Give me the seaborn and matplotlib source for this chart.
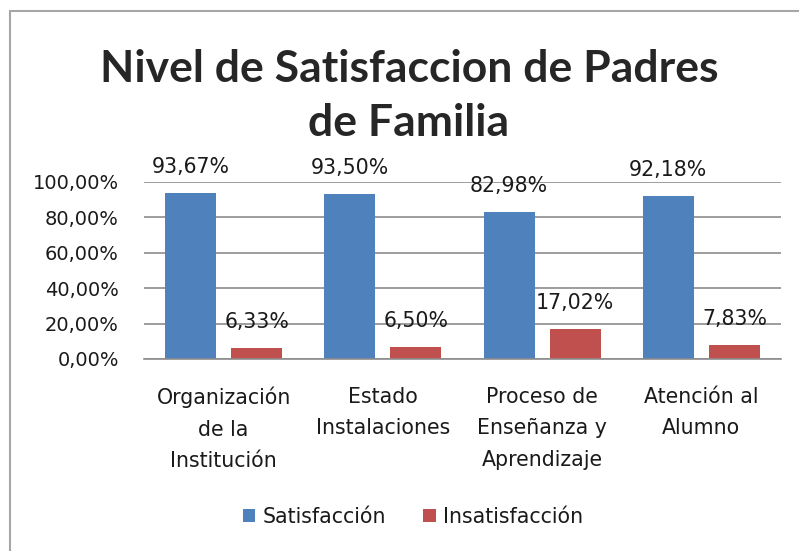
import matplotlib
matplotlib.use("Agg")
import matplotlib.pyplot as plt
import seaborn as sns
import pandas as pd
from matplotlib.lines import Line2D
from matplotlib.patches import Patch

categories = ["Organización\nde la\nInstitución", "Estado\nInstalaciones",
              "Proceso de\nEnseñanza y\nAprendizaje", "Atención al\nAlumno"]
series_names = ["Satisfacción", "Insatisfacción"]
satisfaccion = [93.67, 93.50, 82.98, 92.18]
insatisfaccion = [6.33, 6.50, 17.02, 7.83]
y_ticks = [0, 20, 40, 60, 80, 100]
title_lines = ["Nivel de Satisfaccion de Padres", "de Familia"]

colors = ["#4f81bd", "#c0504d"]

sns.set_theme(style="white")
plt.rcParams["font.family"] = ["DejaVu Sans"]


def pct(v):
    return f"{v:.2f}".replace(".", ",") + "%"


df = pd.DataFrame({
    "categoria": categories * 2,
    "serie": [series_names[0]] * 4 + [series_names[1]] * 4,
    "valor": satisfaccion + insatisfaccion,
})

W, H = 799, 551
fig = plt.figure(figsize=(W / 100, H / 100), dpi=100)
ax = fig.add_axes([144 / W, (H - 359) / H, (781 - 144) / W, (359 - 182) / H])

sns.barplot(data=df, x="categoria", y="valor", hue="serie", palette=colors,
            width=0.83, gap=0.23, ax=ax, legend=False, saturation=1, linewidth=0)

ax.set_ylim(0, 100)
ax.set_xlim(-0.5, 3.5)
ax.set_yticks(y_ticks)
ax.set_yticklabels([pct(v) for v in y_ticks], fontsize=14, color="#1a1a1a")
ax.tick_params(axis="x", labelsize=14.8, labelcolor="#1a1a1a", pad=20, length=0)
ax.tick_params(axis="y", pad=18, length=0)
ax.set_xlabel("")
ax.set_ylabel("")
for lbl in ax.get_xticklabels():
    lbl.set_linespacing(1.72)

ax.yaxis.grid(True, color="#8c8c8c", linewidth=1.2)
ax.set_axisbelow(True)
for side in ["left", "right", "top"]:
    ax.spines[side].set_visible(False)
ax.spines["bottom"].set_color("#8c8c8c")
ax.spines["bottom"].set_linewidth(1.2)

# value labels above each bar
for container in ax.containers:
    for bar in container:
        h = bar.get_height()
        ax.annotate(pct(h), (bar.get_x() + bar.get_width() / 2, h),
                    xytext=(0, 26), textcoords="offset pixels",
                    ha="center", va="center", fontsize=14.8, color="#1a1a1a")

# two-line bold title
title_baselines = [82, 136]
for text, yb in zip(title_lines, title_baselines):
    fig.text(409 / W, 1 - yb / H, text, ha="center", va="baseline",
             fontsize=32, fontweight="bold", family=["Lato", "DejaVu Sans"])

handles = [Patch(facecolor=c, edgecolor="none") for c in colors]
fig.legend(handles, series_names, loc="center", bbox_to_anchor=(413 / W, 1 - 517 / H),
           ncol=2, frameon=False, fontsize=14.8, handlelength=0.62, handleheight=0.62,
           handletextpad=0.35, columnspacing=1.8, labelcolor="#1a1a1a")

# chart frame (left and top edges)
frame_c = "#a6a6a6"
fig.add_artist(Line2D([10 / W, 10 / W], [0, 1 - 11 / H], transform=fig.transFigure,
                      color=frame_c, linewidth=1.5))
fig.add_artist(Line2D([10 / W, 1], [1 - 11 / H, 1 - 11 / H], transform=fig.transFigure,
                      color=frame_c, linewidth=1.5))

fig.savefig("out.png", dpi=100)
